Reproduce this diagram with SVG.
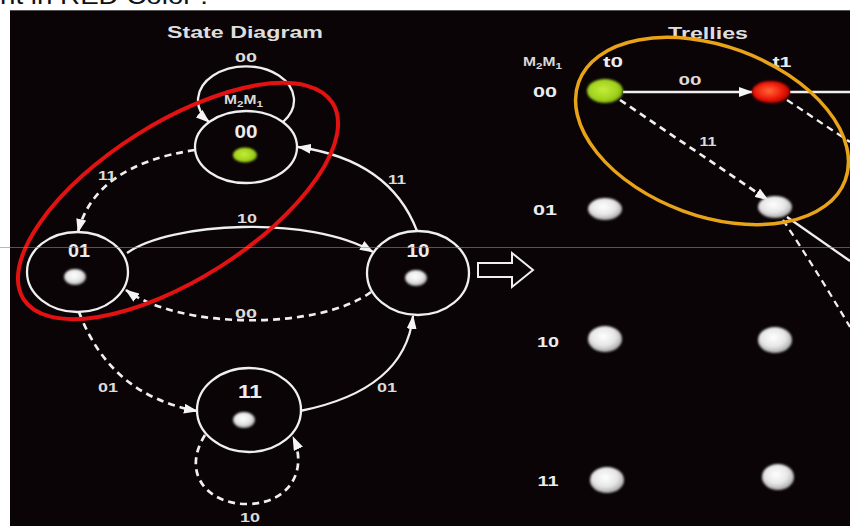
<svg xmlns="http://www.w3.org/2000/svg" width="850" height="527" viewBox="0 0 850 527">
  <defs>
    <style>
      .node { fill: none; stroke: #efefef; stroke-width: 2.3; }
      .edge { fill: none; stroke: #efefef; stroke-width: 2.3; marker-end: url(#ah); }
      .dash { stroke-dasharray: 7 5; stroke-width: 2.7; }
      .plain { fill: none; stroke: #efefef; stroke-width: 2.3; }
      .lbl { font-family: "Liberation Sans", Arial, sans-serif; font-size: 13px; font-weight: bold; fill: #dcdcdc; text-anchor: middle; }
      .state { font-family: "Liberation Sans", Arial, sans-serif; font-size: 18px; font-weight: bold; fill: #ececec; text-anchor: middle; }
      .title { font-family: "Liberation Sans", Arial, sans-serif; font-size: 17px; font-weight: bold; fill: #dedede; text-anchor: middle; }
      .row { font-family: "Liberation Sans", Arial, sans-serif; font-size: 15px; font-weight: bold; fill: #ececec; text-anchor: middle; }
      .pearl { fill: url(#pearl); filter: url(#soft); }
    </style>
    <marker id="ah" viewBox="0 0 14 10" refX="13" refY="5" markerWidth="14" markerHeight="10" markerUnits="userSpaceOnUse" orient="auto">
      <path d="M0,0 L14,5 L0,10 Z" fill="#f4f4f4"/>
    </marker>
    <radialGradient id="pearl" cx="0.45" cy="0.4" r="0.6">
      <stop offset="0" stop-color="#ffffff"/>
      <stop offset="0.6" stop-color="#e6e6e6"/>
      <stop offset="1" stop-color="#a8a8a8"/>
    </radialGradient>
    <radialGradient id="greenDot" cx="0.45" cy="0.45" r="0.6">
      <stop offset="0" stop-color="#c4ec3a"/>
      <stop offset="0.7" stop-color="#9fd11c"/>
      <stop offset="1" stop-color="#6f9a10"/>
    </radialGradient>
    <radialGradient id="redDot" cx="0.45" cy="0.45" r="0.6">
      <stop offset="0" stop-color="#ff6a3a"/>
      <stop offset="0.6" stop-color="#ee1a08"/>
      <stop offset="1" stop-color="#a80000"/>
    </radialGradient>
    <filter id="soft" x="-30%" y="-30%" width="160%" height="160%">
      <feGaussianBlur stdDeviation="0.8"/>
    </filter>
  </defs>

  <!-- page and caption fragment above the slide -->
  <rect x="0" y="0" width="850" height="527" fill="#ffffff"/>
  <text x="0" y="4" font-family="Liberation Sans, Arial, sans-serif" font-size="24" fill="#111111" textLength="208" lengthAdjust="spacingAndGlyphs">nt in RED Color :</text>

  <!-- slide background -->
  <rect x="10" y="10" width="840" height="516" fill="#0b0407"/>
  <line x1="10" y1="10.5" x2="850" y2="10.5" stroke="#555555" stroke-width="1"/>

  <!-- ===== State diagram ===== -->
  <text class="title" x="245" y="38" textLength="156" lengthAdjust="spacingAndGlyphs">State Diagram</text>

  <g id="connectors">
    <!-- 00 self loop -->
    <path class="edge" d="M283,122 A48 34 0 1 0 209,122"/>
    <!-- 00 -> 01 -->
    <path class="edge dash" d="M195,150 Q95,165 78,232"/>
    <!-- 10 -> 00 -->
    <path class="edge" d="M417,231 Q390,160 298,147"/>
    <!-- 01 -> 10 -->
    <path class="edge" d="M127,253 C170,222 310,215 373,252"/>
    <!-- 10 -> 01 -->
    <path class="edge dash" d="M371,292 C320,330 180,330 126,290"/>
    <!-- 01 -> 11 -->
    <path class="edge dash" d="M79,312 Q110,395 197,411"/>
    <!-- 11 -> 10 -->
    <path class="edge" d="M300,411 Q405,390 413,316"/>
    <!-- 11 self loop -->
    <path class="edge dash" d="M205,435 C180,475 210,505 248,504 C290,503 308,470 293,437"/>

    <!-- trellis branches -->
    <path class="edge" d="M623,92 L752,92"/>
    <path class="edge dash" d="M620,100 L768,200"/>
    <path class="plain" d="M790,92 L850,92"/>
    <path class="plain dash" d="M787,100 L850,142"/>
    <path class="plain" d="M787,217 L850,261"/>
    <path class="plain dash" d="M783,220 Q815,268 850,327"/>
  </g>

  <!-- edge labels -->
  <g id="edge-labels">
    <text class="lbl" x="246" y="62" textLength="22" lengthAdjust="spacingAndGlyphs">00</text>
    <text class="lbl" x="107" y="180" textLength="18" lengthAdjust="spacingAndGlyphs">11</text>
    <text class="lbl" x="397" y="184" textLength="18" lengthAdjust="spacingAndGlyphs">11</text>
    <text class="lbl" x="247" y="223" textLength="20" lengthAdjust="spacingAndGlyphs">10</text>
    <text class="lbl" x="246" y="318" textLength="22" lengthAdjust="spacingAndGlyphs">00</text>
    <text class="lbl" x="108" y="392" textLength="20" lengthAdjust="spacingAndGlyphs">01</text>
    <text class="lbl" x="387" y="392" textLength="20" lengthAdjust="spacingAndGlyphs">01</text>
    <text class="lbl" x="250" y="522" textLength="20" lengthAdjust="spacingAndGlyphs">10</text>
    <text class="lbl" x="690" y="85" textLength="23" lengthAdjust="spacingAndGlyphs">00</text>
    <text class="lbl" x="708" y="146" textLength="17" lengthAdjust="spacingAndGlyphs">11</text>
  </g>

  <!-- M2M1 caption inside the loop -->
  <text transform="translate(224,104) scale(1.3,1)" font-family="Liberation Sans, Arial, sans-serif" font-size="12" font-weight="bold" fill="#d8d8d8">M<tspan font-size="9" dy="3">2</tspan><tspan dy="-3">M</tspan><tspan font-size="9" dy="3">1</tspan></text>

  <g id="state-00">
    <ellipse class="node" cx="246" cy="147" rx="51" ry="36"/>
    <text class="state" x="246" y="138" font-size="16" textLength="23" lengthAdjust="spacingAndGlyphs">00</text>
    <ellipse cx="245" cy="155" rx="12" ry="7.5" fill="url(#greenDot)" filter="url(#soft)"/>
  </g>
  <g id="state-01">
    <ellipse class="node" cx="77.5" cy="272" rx="50.5" ry="40"/>
    <text class="state" x="79" y="257" textLength="22" lengthAdjust="spacingAndGlyphs">01</text>
    <ellipse class="pearl" cx="75" cy="277" rx="11" ry="8"/>
  </g>
  <g id="state-10">
    <ellipse class="node" cx="418" cy="273" rx="51" ry="42"/>
    <text class="state" x="418" y="257" textLength="23" lengthAdjust="spacingAndGlyphs">10</text>
    <ellipse class="pearl" cx="416" cy="278" rx="11" ry="8"/>
  </g>
  <g id="state-11">
    <ellipse class="node" cx="249" cy="410" rx="52" ry="42"/>
    <text class="state" x="250" y="398" textLength="24" lengthAdjust="spacingAndGlyphs">11</text>
    <ellipse class="pearl" cx="244" cy="420" rx="11" ry="8"/>
  </g>

  <!-- hollow conversion arrow -->
  <g id="convert-arrow">
    <polygon points="478,263 512,263 512,253 533,270 512,287 512,277 478,277" fill="none" stroke="#efefef" stroke-width="2"/>
  </g>

  <!-- ===== Trellis ===== -->
  <text class="title" x="708" y="39" font-size="16" textLength="80" lengthAdjust="spacingAndGlyphs">Trellies</text>
  <text transform="translate(523,66) scale(1.3,1)" font-family="Liberation Sans, Arial, sans-serif" font-size="12" font-weight="bold" fill="#d8d8d8">M<tspan font-size="9" dy="3">2</tspan><tspan dy="-3">M</tspan><tspan font-size="9" dy="3">1</tspan></text>
  <text class="row" x="613" y="67" font-size="16" textLength="20" lengthAdjust="spacingAndGlyphs">t0</text>
  <text class="row" x="782" y="67" font-size="16" textLength="19" lengthAdjust="spacingAndGlyphs">t1</text>

  <g id="row-labels">
    <text class="row" x="545" y="97" textLength="24" lengthAdjust="spacingAndGlyphs">00</text>
    <text class="row" x="545" y="215" textLength="24" lengthAdjust="spacingAndGlyphs">01</text>
    <text class="row" x="548" y="347" textLength="22" lengthAdjust="spacingAndGlyphs">10</text>
    <text class="row" x="548" y="486" textLength="21" lengthAdjust="spacingAndGlyphs">11</text>
  </g>

  <g id="t0-00"><ellipse cx="605" cy="91" rx="18" ry="12" fill="url(#greenDot)" filter="url(#soft)"/></g>
  <g id="t1-00"><ellipse cx="771" cy="92" rx="19" ry="11" fill="url(#redDot)" filter="url(#soft)"/></g>
  <g id="t0-01"><ellipse class="pearl" cx="605" cy="209" rx="17" ry="11"/></g>
  <g id="t1-01"><ellipse class="pearl" cx="775" cy="207" rx="17" ry="11"/></g>
  <g id="t0-10"><ellipse class="pearl" cx="605" cy="339" rx="17" ry="13"/></g>
  <g id="t1-10"><ellipse class="pearl" cx="775" cy="340" rx="17" ry="13"/></g>
  <g id="t0-11"><ellipse class="pearl" cx="607" cy="480" rx="17" ry="13"/></g>
  <g id="t1-11"><ellipse class="pearl" cx="778" cy="477" rx="16" ry="13"/></g>

  <!-- highlight rings -->
  <ellipse cx="178" cy="201" rx="183" ry="78" transform="rotate(-32.4 178 201)" fill="none" stroke="#e31212" stroke-width="4"/>
  <ellipse cx="712" cy="131" rx="142" ry="85" transform="rotate(20.2 712 131)" fill="none" stroke="#e8a318" stroke-width="3.5"/>

  <!-- scan line across the slide -->
  <line x1="0" y1="247.5" x2="850" y2="247.5" stroke="#8a8a8a" stroke-width="1" opacity="0.6"/>
</svg>
